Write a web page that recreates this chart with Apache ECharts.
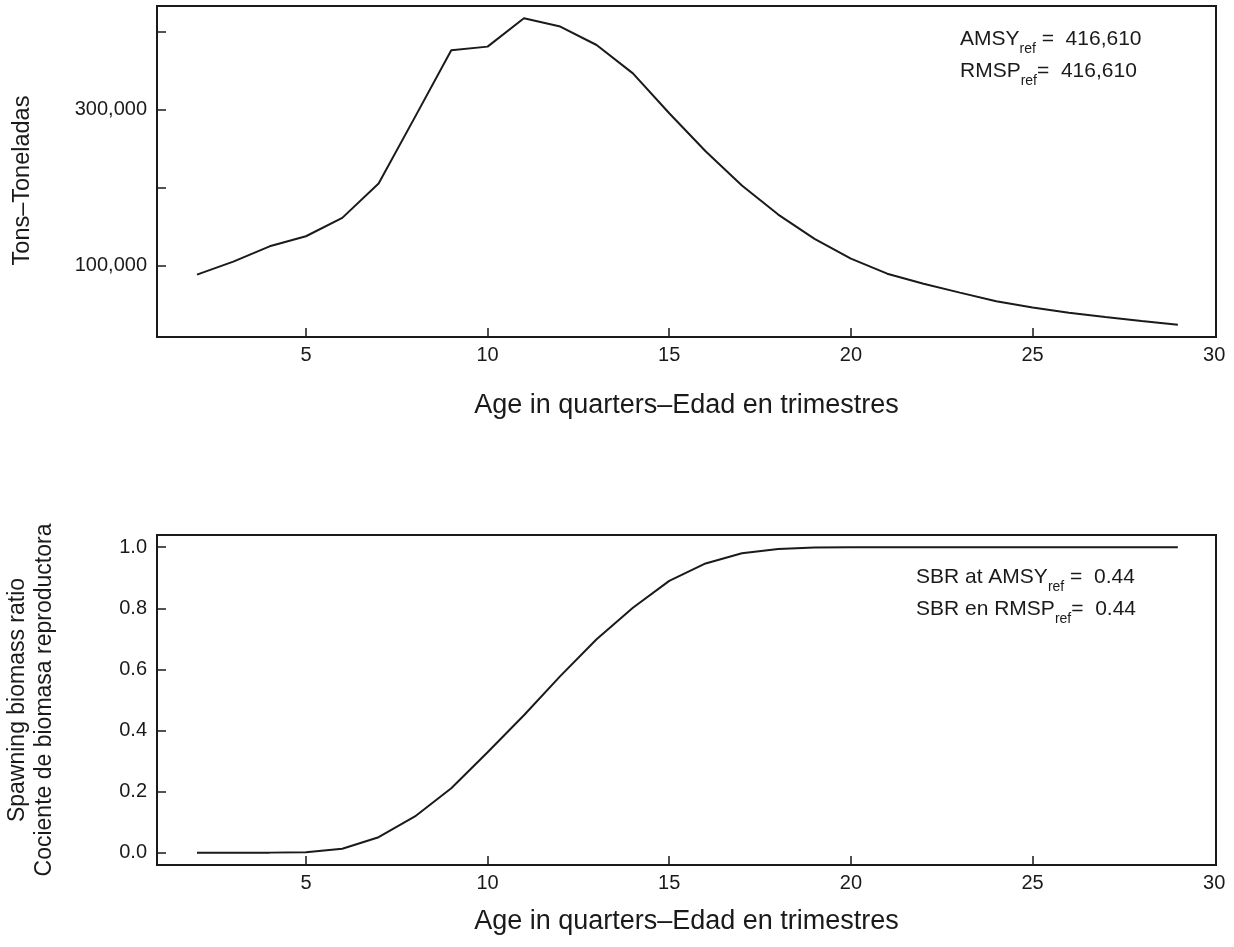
<!DOCTYPE html>
<html>
<head>
<meta charset="utf-8">
<script src="https://cdn.jsdelivr.net/npm/echarts@6/dist/echarts.min.js"></script>
<style>
  html, body { margin: 0; padding: 0; background: #fff; }
  #chart { width: 1234px; height: 947px; }
</style>
</head>
<body>
<div id="chart"></div>
<script>
// edades (trimestres)
const ages = [2, 3, 4, 5, 6, 7, 8, 9, 10, 11, 12, 13, 14, 15, 16, 17, 18, 19, 20, 21, 22, 23, 24, 25, 26, 27, 28, 29];
// rendimiento por edad (toneladas)
const yieldTons = [88100, 104800, 124400, 137300, 160900, 204900, 290100, 375800, 380500, 416900,
  406200, 382600, 346200, 295000, 246400, 202400, 165100, 133900, 108600, 89300,
  76500, 65000, 54000, 46000, 39300, 33700, 28500, 23800];
// cociente de biomasa reproductora
const sbr = [0, 0, 0.0005, 0.002, 0.013, 0.051, 0.119, 0.211, 0.329, 0.45,
  0.578, 0.699, 0.802, 0.89, 0.947, 0.98, 0.994, 0.999, 1, 1,
  1, 1, 1, 1, 1, 1, 1, 1];

const xTicks = [5, 10, 15, 20, 25];
const xLabels = [5, 10, 15, 20, 25, 30];
const tonTicks = [100000, 200000, 300000, 400000];
const tonLabels = [100000, 300000];
const sbrTicks = [0, 0.2, 0.4, 0.6, 0.8, 1.0];

const xTitle = "Age in quarters\u2013Edad en trimestres";

const FONT = "Liberation Sans, Arial, sans-serif";
const INK = "#1a1a1a";

const pairs = (ys) => ages.map((a, i) => [a, ys[i]]);
const fmtThousands = (v) => String(v).replace(/\B(?=(\d{3})+(?!\d))/g, ",");

function xAxisFor(grid, gap) {
  return {
    type: "value", gridIndex: grid, min: 0.9, max: 30.05,
    axisLine: { show: false, onZero: false },
    splitLine: { show: false },
    axisTick: { inside: true, length: 9, customValues: xTicks, lineStyle: { color: INK, width: 1.5 } },
    axisLabel: { customValues: xLabels, color: INK, fontSize: 20, fontFamily: FONT, margin: 8 },
    name: xTitle, nameLocation: "middle", nameGap: gap,
    nameTextStyle: { color: INK, fontSize: 27, fontFamily: FONT },
  };
}

const rich = {
  n: { fontSize: 21, lineHeight: 23, verticalAlign: "top", fontFamily: FONT, color: INK },
  s: { fontSize: 14, lineHeight: 14, verticalAlign: "top", padding: [13, 0, 0, 0], fontFamily: FONT, color: INK },
};
const note = (x, y, txt) => ({
  type: "text", left: x, top: y,
  style: { text: txt, rich, fontFamily: FONT, fill: INK },
});

const chart = echarts.init(document.getElementById("chart"), null, { renderer: "canvas" });
chart.setOption({
  animation: false,
  backgroundColor: "#fff",
  grid: [
    { left: 157, right: 18, top: 6, height: 331, show: true, borderColor: INK, borderWidth: 2, outerBoundsMode: "none", containLabel: false },
    { left: 157, right: 18, top: 535, height: 330, show: true, borderColor: INK, borderWidth: 2, outerBoundsMode: "none", containLabel: false },
  ],
  xAxis: [xAxisFor(0, 55), xAxisFor(1, 43)],
  yAxis: [
    {
      type: "value", gridIndex: 0, min: 8100, max: 432600,
      axisLine: { show: false, onZero: false },
      splitLine: { show: false },
      axisTick: { inside: true, length: 9, customValues: tonTicks, lineStyle: { color: INK, width: 1.5 } },
      axisLabel: { customValues: tonLabels, formatter: fmtThousands, color: INK, fontSize: 20, fontFamily: FONT, margin: 10 },
      name: "Tons\u2013Toneladas", nameLocation: "middle", nameRotate: 90, nameGap: 122,
      nameTextStyle: { color: INK, fontSize: 23.5, fontFamily: FONT, padding: [0, 18, 0, 0] },
    },
    {
      type: "value", gridIndex: 1, min: -0.04, max: 1.04,
      axisLine: { show: false, onZero: false },
      splitLine: { show: false },
      axisTick: { inside: true, length: 9, customValues: sbrTicks, lineStyle: { color: INK, width: 1.5 } },
      axisLabel: { customValues: sbrTicks, formatter: (v) => v.toFixed(1), color: INK, fontSize: 20, fontFamily: FONT, margin: 10 },
      name: "Spawning biomass ratio\nCociente de biomasa reproductora",
      nameLocation: "middle", nameRotate: 90, nameGap: 99,
      nameTextStyle: { color: INK, fontSize: 23, lineHeight: 27, fontFamily: FONT },
    },
  ],
  series: [
    {
      type: "line", xAxisIndex: 0, yAxisIndex: 0, data: pairs(yieldTons),
      showSymbol: false, lineStyle: { color: INK, width: 2 },
    },
    {
      type: "line", xAxisIndex: 1, yAxisIndex: 1, data: pairs(sbr),
      showSymbol: false, lineStyle: { color: INK, width: 2 },
    },
  ],
  graphic: [
    note(960, 29, "{n|AMSY}{s|ref}{n| =  416,610}"),
    note(960, 61, "{n|RMSP}{s|ref}{n|=  416,610}"),
    note(916, 567, "{n|SBR at AMSY}{s|ref}{n| =  0.44}"),
    note(916, 599, "{n|SBR en RMSP}{s|ref}{n|=  0.44}"),
  ],
});
</script>
</body>
</html>
